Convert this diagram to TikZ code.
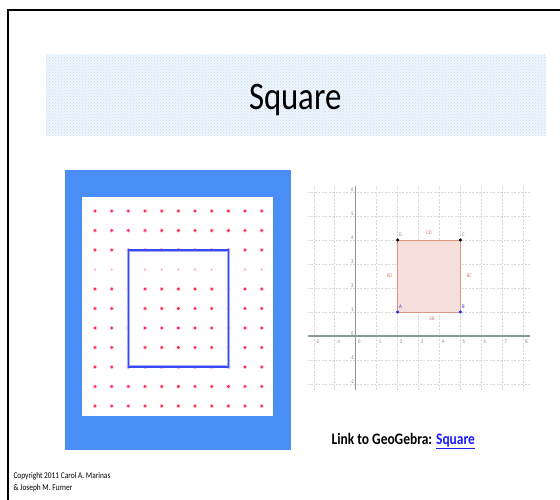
\documentclass[tikz,border=0pt]{standalone}
\usepackage{fontspec}
\setmainfont{Carlito}[FakeStretch=0.84]
\usetikzlibrary{patterns}
\definecolor{bandfill}{HTML}{EEF5FC}
\definecolor{banddot}{HTML}{C4DBF2}
\definecolor{frameblue}{HTML}{4A8EF5}
\definecolor{dotred}{HTML}{FF1F4B}
\definecolor{sqblue}{HTML}{3A48F5}
\definecolor{gridgray}{HTML}{D8D8D8}
\definecolor{axisgray}{HTML}{8A9A92}
\definecolor{polyfill}{HTML}{F7E0DB}
\definecolor{polyedge}{HTML}{DA9484}
\definecolor{seglab}{HTML}{D87A68}
\definecolor{ptblue}{HTML}{2233EE}
\definecolor{linkblue}{HTML}{1A1AFF}
\tikzset{
  gridline/.style={gridgray, dashed, dash pattern=on 2pt off 1.5pt, line width=0.6pt},
  axisline/.style={axisgray, line width=1.1pt},
  ticklab/.style={font=\fontsize{5.5}{6}\selectfont, text=gray, inner sep=0pt},
  seglabel/.style={font=\fontsize{5.5}{6}\selectfont, text=seglab, inner sep=0pt},
  geodot/.style={fill=dotred, draw=none},
}
\begin{document}
\begin{tikzpicture}[x=1pt,y=-1pt]
\useasboundingbox (0,0) rectangle (560,500);
\fill[white] (0,0) rectangle (560,500);
% slide border (top and left)
\draw[black, line width=2pt] (8,500) -- (8,10) -- (560,10);
% title band
\fill[bandfill] (46,55) rectangle (546,136);
\fill[pattern=crosshatch dots, pattern color=banddot] (46,55) rectangle (546,136);
\node[anchor=base, inner sep=0pt, font=\fontsize{39}{45}\selectfont] (title) at (295.5,109.3) {Square};
% left image: geoboard
\fill[frameblue] (65,170) rectangle (291,450);
\fill[white] (82,197) rectangle (273,416);
\foreach \j in {0,...,10}{
  \foreach \i in {0,...,10}{
    \ifnum\j=3
      \fill[dotred, opacity=0.35] ({95+16.67*\i},{211+19.5*\j}) circle (1.3pt);
    \else
      \fill[dotred!25] ({95+16.67*\i},{211+19.5*\j}) circle (2.1pt);
      \fill[geodot] ({95+16.67*\i},{211+19.5*\j}) circle (1.4pt);
    \fi
  }
}
\draw[sqblue!45, line width=3pt] (128.3,250) rectangle (228.3,366.7);
\draw[sqblue, line width=1.6pt] (128.3,250) rectangle (228.3,366.7);
% right image: coordinate graph
\begin{scope}[shift={(355.7,336)}, x={(20.93pt,0pt)}, y={(0pt,24pt)}]
  \foreach \i in {-2,...,8}{ \draw[gridline] (\i,-2.25) -- (\i,6.25); }
  \foreach \j in {-2,...,6}{ \draw[gridline] (-2.28,\j) -- (8.33,\j); }
  \draw[axisline] (-2.28,0) -- (8.33,0);
  \draw[axisline] (0,-2.25) -- (0,6.25);
  \foreach \i in {-2,...,8}{ \node[ticklab] at ([xshift=3.5pt,yshift=-6pt]\i,0) {\i}; }
  \foreach \j in {-2,...,6}{ \node[ticklab] at ([xshift=-3.5pt,yshift=2pt]0,\j) {\j}; }
  \coordinate (A) at (2,1);
  \coordinate (B) at (5,1);
  \coordinate (C) at (5,4);
  \coordinate (D) at (2,4);
  \filldraw[fill=polyfill, draw=polyedge, line width=0.9pt] (A) -- (B) -- (C) -- (D) -- cycle;
  \fill[ptblue] (A) circle (1.7pt);
  \fill[ptblue] (B) circle (1.7pt);
  \fill[black] (C) circle (1.7pt);
  \fill[black] (D) circle (1.7pt);
  \node[ticklab, text=ptblue] (lA) at ([xshift=3pt,yshift=5.5pt]A) {A};
  \node[ticklab, text=ptblue] (lB) at ([xshift=3pt,yshift=5.5pt]B) {B};
  \node[ticklab, text=gray] (lC) at ([xshift=3pt,yshift=5.5pt]C) {C};
  \node[ticklab, text=gray] (lD) at ([xshift=3pt,yshift=5.5pt]D) {D};
  \node[seglabel] (sCD) at ([yshift=7pt]3.5,4) {CD};
  \node[seglabel] (sAB) at ([xshift=3pt,yshift=-7pt]3.5,1) {AB};
  \node[seglabel] (sAD) at ([xshift=-8pt]2,2.5) {AD};
  \node[seglabel] (sBC) at ([xshift=9pt]5,2.5) {BC};
\end{scope}
% link text
\node[anchor=base west, inner sep=0pt, font=\bfseries\fontsize{16}{19}\selectfont] (link) at (331.5,444)
  {Link to GeoGebra: \textcolor{linkblue}{\underline{Square}}};
% copyright
\node[anchor=base west, inner sep=0pt, font=\fontsize{8.8}{10}\selectfont] (copy1) at (13.3,478.3) {Copyright 2011 Carol A. Marinas};
\node[anchor=base west, inner sep=0pt, font=\fontsize{8.8}{10}\selectfont] (copy2) at (13.3,490) {\& Joseph M. Furner};
\end{tikzpicture}
\end{document}
